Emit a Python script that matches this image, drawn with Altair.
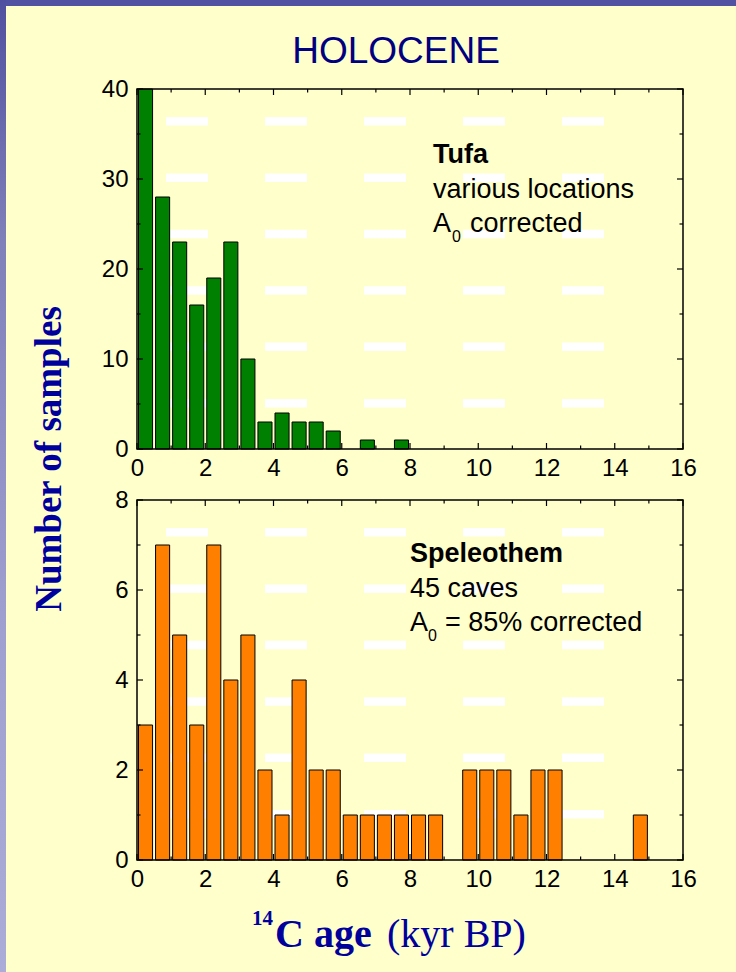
import altair as alt
import pandas as pd

# Radiocarbon age histograms, 0.5 kyr bins starting at 0 kyr BP
BIN_WIDTH = 0.5
tufa_counts = [40, 28, 23, 16, 19, 23, 10, 3, 4, 3, 3, 2, 0, 1, 0, 1]
speleothem_counts = [3, 7, 5, 3, 7, 4, 5, 2, 1, 4, 2, 2, 1, 1, 1, 1, 1, 1,
                     0, 2, 2, 2, 1, 2, 2, 0, 0, 0, 0, 1]

# Axis tick values
x_major = [0, 2, 4, 6, 8, 10, 12, 14, 16]
x_minor = [1, 3, 5, 7, 9, 11, 13, 15]
tufa_y_major = [0, 10, 20, 30, 40]
tufa_y_minor = [5, 15, 25, 35]
spel_y_major = [0, 2, 4, 6, 8]
spel_y_minor = [1, 3, 5, 7]

W, H = 546, 360          # plot area of each panel
LEFT, TOP = 137, 89      # offset of the upper panel on the page
PAGE_W, PAGE_H = 736, 972

SANS = "Liberation Sans"
SERIF = "Liberation Serif"
NAVY = "#000080"
TITLE_BLUE = "#00009C"
BG = "#FFFFCC"


def hist_frame(counts):
    rows = []
    for i, c in enumerate(counts):
        if c > 0:
            rows.append({"start": i * BIN_WIDTH, "end": (i + 1) * BIN_WIDTH, "count": c})
    return pd.DataFrame(rows)


def one():
    return alt.Data(values=[{}])


def label(text, x, y, size, font=SANS, weight="normal", color="black",
          align="left", angle=0):
    kw = dict(text=text, font=font, fontSize=size, fontWeight=weight,
              color=color, align=align, baseline="alphabetic")
    if angle:
        kw["angle"] = angle
    return alt.Chart(one()).mark_text(**kw).encode(x=alt.value(x), y=alt.value(y))


def axis(values, pad):
    return alt.Axis(values=values, format="d", title=None, grid=False, ticks=False,
                    domain=False, labelFont=SANS, labelFontSize=24, labelColor="black",
                    labelPadding=pad, labelFlush=False, labelOverlap=False, zindex=1)


def x_axis():
    return axis(x_major, 7)


def y_axis(values):
    return axis(values, 9)


def dash_pattern():
    # white slide-template dashes behind the bars: 5 columns x 6 rows
    return (
        alt.Chart(alt.sequence(0, 30, as_="k"))
        .transform_calculate(
            px="29 + 99 * (datum.k % 5)",
            py="28 + 56.4 * floor(datum.k / 5)",
        )
        .transform_calculate(px2="datum.px + 42", py2="datum.py + 8.5")
        .mark_rect(color="white")
        .encode(
            x=alt.X("px:Q", scale=None),
            x2="px2:Q",
            y=alt.Y("py:Q", scale=None),
            y2="py2:Q",
        )
    )


def frame():
    return alt.Chart(one()).mark_rect(fill=None, stroke="black", strokeWidth=1.5).encode(
        x=alt.value(0), x2=alt.value(W), y=alt.value(0), y2=alt.value(H))


def inward_ticks(xs, ys, y_major, y_minor):
    layers = []
    for vals, L in ((x_major, 6), (x_minor, 3.5)):
        base = alt.Chart(pd.DataFrame({"v": vals})).mark_rule(color="black", strokeWidth=1.2)
        xe = alt.X("v:Q", scale=xs, axis=x_axis())
        layers.append(base.encode(x=xe, y=alt.value(0), y2=alt.value(L)))
        layers.append(base.encode(x=xe, y=alt.value(H), y2=alt.value(H - L)))
    for vals, L in ((y_major, 6), (y_minor, 3.5)):
        base = alt.Chart(pd.DataFrame({"v": vals})).mark_rule(color="black", strokeWidth=1.2)
        ye = alt.Y("v:Q", scale=ys, axis=y_axis(y_major))
        layers.append(base.encode(y=ye, x=alt.value(0), x2=alt.value(L)))
        layers.append(base.encode(y=ye, x=alt.value(W), x2=alt.value(W - L)))
    return layers


def bars(counts, fill, xs, ys, y_major):
    return (
        alt.Chart(hist_frame(counts))
        .mark_bar(fill=fill, stroke="black", strokeWidth=1, xOffset=1.5, x2Offset=-1.5)
        .encode(
            x=alt.X("start:Q", scale=xs, axis=x_axis()),
            x2="end:Q",
            y=alt.Y("count:Q", scale=ys, axis=y_axis(y_major)),
            y2=alt.datum(0),
        )
    )


xs = alt.Scale(domain=[0, 16], nice=False, zero=False)

# ---------- upper panel: tufa ----------
tufa_ys = alt.Scale(domain=[0, 40], nice=False, zero=True)

page_bg = alt.Chart(one()).mark_rect(color=BG).encode(
    x=alt.value(-LEFT), x2=alt.value(PAGE_W - LEFT),
    y=alt.value(-TOP), y2=alt.value(PAGE_H - TOP))
top_strip = alt.Chart(one()).mark_rect(color="#5252A2").encode(
    x=alt.value(-LEFT), x2=alt.value(PAGE_W - LEFT),
    y=alt.value(-TOP), y2=alt.value(-TOP + 6))
left_strip = alt.Chart(one()).mark_rect(
    fill=alt.Gradient(
        gradient="linear", x1=0, y1=0, x2=0, y2=1,
        stops=[alt.GradientStop(offset=0, color="#5050A0"),
               alt.GradientStop(offset=0.25, color="#8080BA"),
               alt.GradientStop(offset=0.65, color="#A0A0D0"),
               alt.GradientStop(offset=1, color="#ACACD8")])
).encode(x=alt.value(-LEFT), x2=alt.value(-LEFT + 6),
         y=alt.value(-TOP), y2=alt.value(PAGE_H - TOP))

top_panel = alt.layer(
    page_bg, top_strip, left_strip,
    dash_pattern(),
    bars(tufa_counts, "#008000", xs, tufa_ys, tufa_y_major),
    *inward_ticks(xs, tufa_ys, tufa_y_major, tufa_y_minor),
    frame(),
    label("HOLOCENE", 259, -26, 37, color=NAVY, align="center"),
    label("Number of samples", -76, 370, 37, font=SERIF, weight="bold",
          color=TITLE_BLUE, align="center", angle=270),
    label("Tufa", 296, 74, 27, weight="bold"),
    label("various locations", 296, 109, 27),
    label("A", 296, 143, 27),
    label("0", 315, 153, 16),
    label("corrected", 333, 143, 27),
).properties(width=W, height=H)

# ---------- lower panel: speleothem ----------
spel_ys = alt.Scale(domain=[0, 8], nice=False, zero=True)

bottom_panel = alt.layer(
    dash_pattern(),
    bars(speleothem_counts, "#FF8000", xs, spel_ys, spel_y_major),
    *inward_ticks(xs, spel_ys, spel_y_major, spel_y_minor),
    frame(),
    label("Speleothem", 273, 62, 27, weight="bold"),
    label("45 caves", 273, 97, 27),
    label("A", 273, 131, 27),
    label("0", 291, 141, 16),
    label("= 85% corrected", 308, 131, 27),
    label("14", 115, 425, 21, font=SERIF, weight="bold", color=TITLE_BLUE),
    label("C age", 138, 447, 40, font=SERIF, weight="bold", color=TITLE_BLUE),
    label("(kyr BP)", 250, 447, 40, font=SERIF, color=TITLE_BLUE),
).properties(width=W, height=H)

chart = (
    alt.vconcat(top_panel, bottom_panel, spacing=51, bounds="flush")
    .properties(padding=0, background=BG)
    .configure_view(stroke=None)
)

chart.save("out.html", embed_options={"renderer": "svg", "actions": False})
